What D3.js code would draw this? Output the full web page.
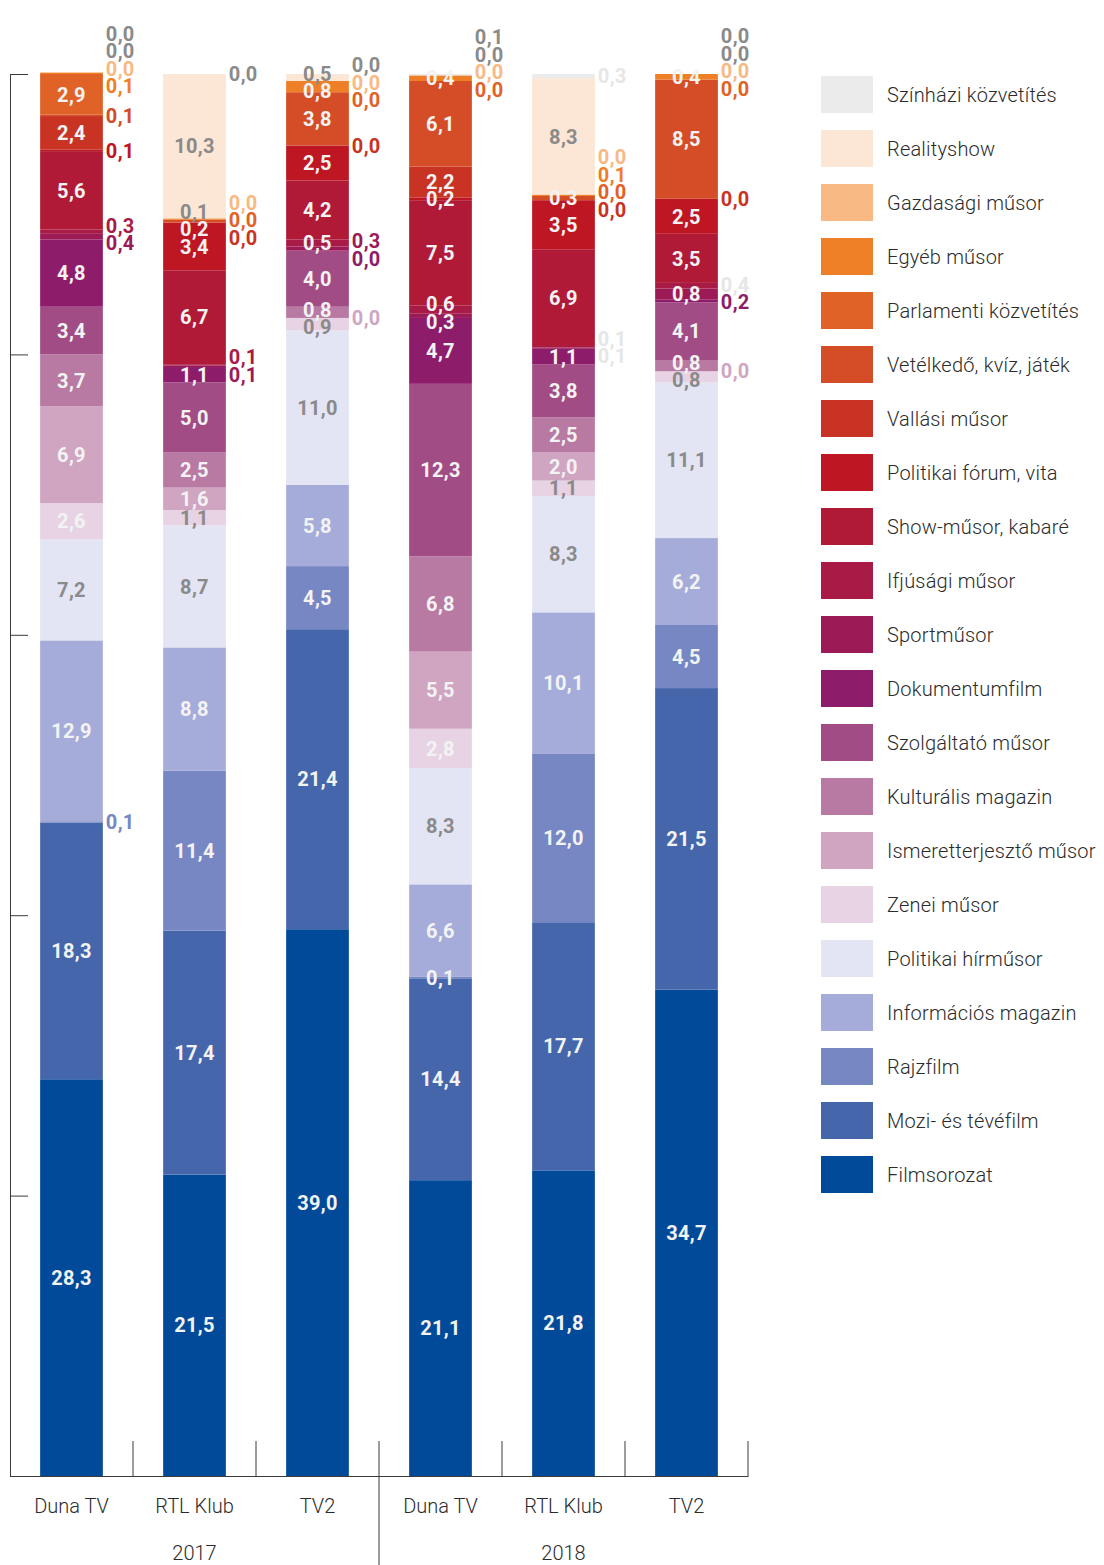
<!DOCTYPE html>
<html><head><meta charset="utf-8">
<script src="https://cdn.jsdelivr.net/npm/d3@7"></script>
<style>
body{margin:0;background:#fff}
svg{display:block}
text{font-family:Roboto,"Noto Sans",sans-serif}
</style>
</head><body>
<svg id="chart" width="1104" height="1565"></svg>
<script>
// ---------------- DATA ----------------
const series = ["Filmsorozat","Mozi- és tévéfilm","Rajzfilm","Információs magazin","Politikai hírműsor","Zenei műsor","Ismeretterjesztő műsor","Kulturális magazin","Szolgáltató műsor","Dokumentumfilm","Sportműsor","Ifjúsági műsor","Show-műsor, kabaré","Politikai fórum, vita","Vallási műsor","Vetélkedő, kvíz, játék","Parlamenti közvetítés","Egyéb műsor","Gazdasági műsor","Realityshow","Színházi közvetítés"];
const seriesColors = ["#014a99","#4666ac","#7787c4","#a6acd9","#e3e5f4","#e7d3e3","#cfa5c1","#b87aa3","#a24c85","#8d1c6a","#9c1b57","#a81b46","#b01a37","#be1622","#c93324","#d54d26","#e16226","#ef7f27","#f8b985","#fce6d5","#ebebeb"];
const years = ["2017","2018"];
const channels = ["Duna TV","RTL Klub","TV2"];
// values in series order (bottom to top), percent
const dunaTV2017 = [28.3,18.3,0.1,12.9,7.2,2.6,6.9,3.7,3.4,4.8,0.4,0.3,5.6,0.1,2.4,0.1,2.9,0.1,0.0,0.0,0.0];
const rtlKlub2017 = [21.5,17.4,11.4,8.8,8.7,1.1,1.6,2.5,5.0,1.1,0.1,0.1,6.7,3.4,0.0,0.2,0.0,0.1,0.0,10.3,0.0];
const tv2_2017 = [39.0,21.4,4.5,5.8,11.0,0.9,0.0,0.8,4.0,0.0,0.3,0.5,4.2,2.5,0.0,3.8,0.0,0.8,0.0,0.5,0.0];
const dunaTV2018 = [21.1,14.4,0.1,6.6,8.3,2.8,5.5,6.8,12.3,4.7,0.3,0.6,7.5,0.2,2.2,6.1,0.0,0.4,0.0,0.0,0.1];
const rtlKlub2018 = [21.8,17.7,12.0,10.1,8.3,1.1,2.0,2.5,3.8,1.1,0.1,0.1,6.9,3.5,0.0,0.3,0.0,0.1,0.0,8.3,0.3];
const tv2_2018 = [34.7,21.5,4.5,6.2,11.1,0.8,0.0,0.8,4.1,0.2,0.8,0.4,3.5,2.5,0.0,8.5,0.0,0.4,0.0,0.0,0.0];
const barValues = [dunaTV2017, rtlKlub2017, tv2_2017, dunaTV2018, rtlKlub2018, tv2_2018];
// non-zero values whose label sits beside the bar (zero values always do)
const outsideLabels = [
  ["Rajzfilm","Sportműsor","Ifjúsági műsor","Politikai fórum, vita","Vetélkedő, kvíz, játék","Egyéb műsor"],
  ["Sportműsor","Ifjúsági műsor"],
  ["Sportműsor"],
  ["Színházi közvetítés"],
  ["Sportműsor","Ifjúsági műsor","Egyéb műsor","Színházi közvetítés"],
  ["Dokumentumfilm","Ifjúsági műsor"]
];
// labels drawn in the faded light style
const fadedLabels = [["Zenei műsor"],[],[],["Zenei műsor"],["Sportműsor","Ifjúsági műsor","Színházi közvetítés"],["Ifjúsági műsor"]];
const yTicks = [0,20,40,60,80,100];

// ---------------- CHART ----------------
const svg = d3.select("#chart");
const keys = [];
years.forEach(y => channels.forEach(c => keys.push(y + "|" + c)));

const x = d3.scaleBand().domain(keys).range([10, 748]).paddingInner(0.49).paddingOuter(0.245);
const y = d3.scaleLinear().domain([0, 100]).range([1476, 74]);
const color = d3.scaleOrdinal().domain(series).range(seriesColors);

const rows = keys.map((k, i) => {
  const o = {key: k};
  series.forEach((s, j) => o[s] = barValues[i][j]);
  return o;
});
const stacked = d3.stack().keys(series)(rows);

// bars
svg.append("g").selectAll("g").data(stacked).join("g")
  .attr("fill", d => color(d.key))
  .selectAll("rect").data(d => d.map(p => ({p, key: d.key}))).join("rect")
  .attr("x", d => x(d.p.data.key))
  .attr("width", x.bandwidth())
  .attr("y", d => y(d.p[1]))
  .attr("height", d => Math.max(0, y(d.p[0]) - y(d.p[1])));

// axes
const axisColor = "#3a3a3a";
const left = svg.append("g").attr("transform", "translate(10,0)")
  .call(d3.axisRight(y).tickValues(yTicks).tickSize(18).tickSizeOuter(0).tickFormat(""));
left.selectAll("path,line").attr("stroke", axisColor);

const bottom = svg.append("g").attr("transform", "translate(0,1476)")
  .call(d3.axisBottom(x).tickSize(0).tickFormat(k => k.split("|")[1]));
bottom.select(".domain").attr("stroke", axisColor);
bottom.selectAll("text").attr("dy", null).attr("y", 37)
  .attr("font-size", 20).attr("font-weight", 300).attr("fill", "#2b2b2b")
  .attr("font-family", "Roboto");

// boundaries between categories
const step = x.step();
const boundaries = keys.map((k, i) => x(k) + x.bandwidth() + step * x.paddingInner() / 2);
svg.append("g").selectAll("line").data(boundaries).join("line")
  .attr("x1", d => d).attr("x2", d => d)
  .attr("y1", 1441)
  .attr("y2", (d, i) => (i === channels.length - 1) ? 1565 : 1476)
  .attr("stroke", axisColor).attr("stroke-width", 1);

// year labels
const yearCenters = years.map((yr, i) => {
  const start = i === 0 ? x.range()[0] : boundaries[i * channels.length - 1];
  const end = boundaries[(i + 1) * channels.length - 1];
  return (start + end) / 2;
});
svg.append("g").selectAll("text").data(years).join("text")
  .attr("x", (d, i) => yearCenters[i]).attr("y", 1560)
  .attr("text-anchor", "middle").attr("font-size", 20).attr("font-weight", 300)
  .attr("fill", "#2b2b2b").text(d => d);

// ---------------- VALUE LABELS ----------------
const fmt = v => d3.format(".1f")(v).replace(".", ",");
const GAP = 17.5;
function dodge(items, bias) {
  items.sort((a, b) => a.want - b.want || b.idx - a.idx);
  const clusters = [];
  const place = cl => {
    const n = cl.items.length;
    const c = cl.sum / n - bias(n);
    return {top: c - (n - 1) * GAP / 2, bottom: c + (n - 1) * GAP / 2};
  };
  for (const it of items) {
    clusters.push({items: [it], sum: it.want});
    while (clusters.length > 1) {
      const c = clusters[clusters.length - 1], p = clusters[clusters.length - 2];
      if (place(c).top - place(p).bottom < GAP) {
        p.items.push(...c.items); p.sum += c.sum; clusters.pop();
      } else break;
    }
  }
  clusters.forEach(cl => {
    const t = place(cl).top;
    cl.items.forEach((it, i) => it.y = t + i * GAP);
  });
  return items;
}

const labels = [];
keys.forEach((k, bi) => {
  const inside = [], outside = [];
  stacked.forEach((layer, si) => {
    const p = layer[bi];
    const v = barValues[bi][si];
    const item = {bar: bi, key: k, idx: si, s: layer.key, v,
      want: (y(p[0]) + y(p[1])) / 2,
      faded: fadedLabels[bi].includes(layer.key)};
    if (v === 0 || outsideLabels[bi].includes(layer.key)) outside.push(item);
    else inside.push(item);
  });
  dodge(inside, () => 0).forEach(d => { d.out = false; labels.push(d); });
  dodge(outside, n => n >= 4 ? (n - 1) * GAP / 4 : 0).forEach(d => { d.out = true; labels.push(d); });
});

const GREY = "#8a8a8a", WHITE = "#f3f3f3", FADED = "#e6e6e6";
function labelColor(d) {
  if (d.out) {
    if (d.faded) return FADED;
    const c = color(d.s);
    return d3.lab(c).l > 88 ? GREY : c;
  }
  if (d.faded) return WHITE;
  // colour of whatever lies under the label
  const bi = d.bar;
  let under = null;
  stacked.forEach(layer => {
    const p = layer[bi];
    if (d.y <= y(p[0]) && d.y >= y(p[1]) && p[1] > p[0]) under = color(layer.key);
  });
  if (!under) return GREY;
  return d3.lab(under).l > 80 ? GREY : WHITE;
}

svg.append("g").selectAll("text").data(labels).join("text")
  .attr("x", d => d.out ? x(d.key) + x.bandwidth() + 3 : x(d.key) + x.bandwidth() / 2)
  .attr("y", d => d.y)
  .attr("dy", "0.36em")
  .attr("text-anchor", d => d.out ? "start" : "middle")
  .attr("font-size", 20).attr("font-weight", 700)
  .attr("letter-spacing", "0.3px")
  .attr("fill", labelColor)
  .text(d => fmt(d.v));

// ---------------- LEGEND ----------------
const legendOrder = series.slice().reverse();
const lg = svg.append("g").attr("transform", "translate(821,76)");
const li = lg.selectAll("g").data(legendOrder).join("g")
  .attr("transform", (d, i) => `translate(0,${i * 54})`);
li.append("rect").attr("width", 52).attr("height", 37).attr("fill", d => color(d));
li.append("text").attr("x", 66).attr("y", 18.5).attr("dy", "0.35em")
  .attr("font-size", 20).attr("font-weight", 300).attr("fill", "#2b2b2b")
  .attr("letter-spacing", "0.2px")
  .text(d => d);
</script>
</body></html>
